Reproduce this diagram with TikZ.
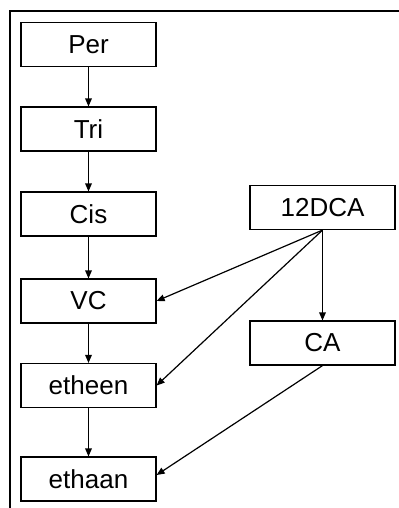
\documentclass[tikz,border=0pt]{standalone}
\usepackage{fontspec}
\setmainfont{Liberation Sans}
\usepackage{tikz}
\usetikzlibrary{arrows.meta,positioning}

\begin{document}
\begin{tikzpicture}[
  x=0.75pt, y=-0.75pt,
  >={Triangle[length=6pt,width=5pt]},
  stof/.style={draw, line width=0.9pt, minimum width=101.25pt, minimum height=33pt,
    inner sep=0pt, font=\fontsize{19.5}{23}\selectfont},
  breed/.style={stof, minimum width=108.75pt},
  every path/.style={line width=0.9pt},
]
\useasboundingbox (0,0) rectangle (399,508);
% frame
\draw[line width=1.5pt] (10,520) -- (10,11) -- (410,11);
% chain on the left
\node[stof] (Per) at (88.5,44.5) {Per};
\node[stof] (Tri) at (88.5,129) {Tri};
\node[stof] (Cis) at (88.5,214) {Cis};
\node[stof] (VC) at (88.5,301) {VC};
\node[stof] (etheen) at (88.5,385.5) {etheen};
\node[stof] (ethaan) at (88.5,479) {ethaan};
% second source on the right
\node[breed] (DCA) at (322.5,207.5) {12DCA};
\node[breed] (CA) at (322.5,343) {CA};
% edges
\draw[->] (Per) -- (Tri);
\draw[->] (Tri) -- (Cis);
\draw[->] (Cis) -- (VC);
\draw[->] (VC) -- (etheen);
\draw[->] (etheen) -- (ethaan);
\draw[->] (DCA.south) -- (VC.east);
\draw[->] (DCA.south) -- (etheen.east);
\draw[->] (DCA.south) -- (CA.north);
\draw[->] (CA.south) -- ([yshift=3pt]ethaan.east);
\end{tikzpicture}
\end{document}
